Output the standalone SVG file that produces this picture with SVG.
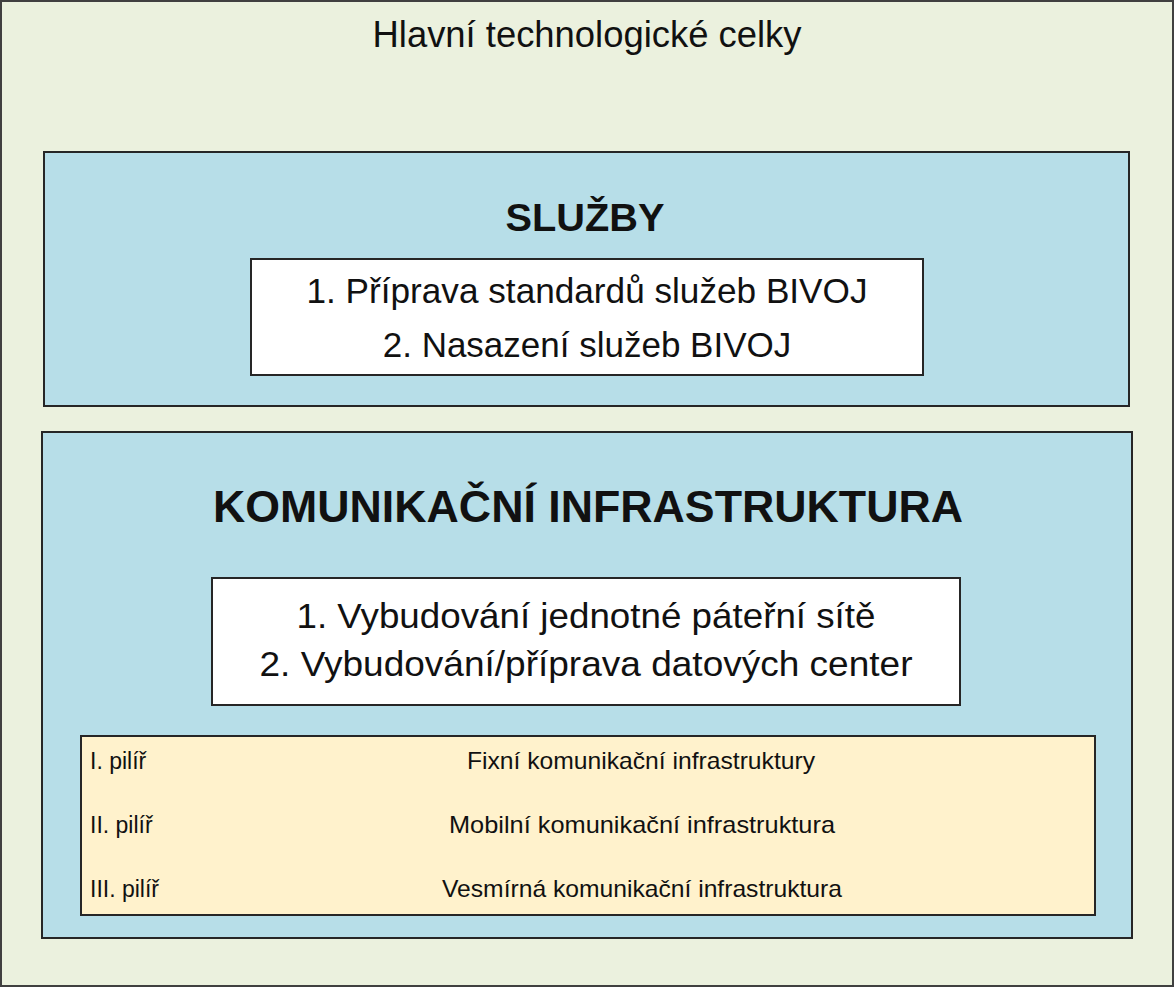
<svg xmlns="http://www.w3.org/2000/svg" width="1174" height="987" viewBox="0 0 1174 987">
<style>
.box{stroke:#262626;stroke-width:2}
.t{font-family:"Liberation Sans",Arial,sans-serif;fill:#111;text-anchor:middle}
.b{font-weight:bold}
.l{font-family:"Liberation Sans",Arial,sans-serif;fill:#111;font-size:23px}
</style>
<rect width="1174" height="987" fill="#ffffff"/>
<g id="outer">
<rect x="1" y="1" width="1172" height="985" fill="#EBF1DE" stroke="#404040" stroke-width="2"/>
<text class="t" x="587" y="47" font-size="36" textLength="429" lengthAdjust="spacingAndGlyphs">Hlavní technologické celky</text>
</g>
<g id="sluzby">
<rect class="box" x="44" y="152" width="1085" height="254" fill="#B7DEE8"/>
<text class="t b" x="585" y="231" font-size="38" textLength="159" lengthAdjust="spacingAndGlyphs">SLUŽBY</text>
</g>
<g id="sluzby-list">
<rect class="box" x="251" y="259" width="672" height="116" fill="#ffffff"/>
<text class="t" x="587" y="303" font-size="35" textLength="561" lengthAdjust="spacingAndGlyphs">1. Příprava standardů služeb BIVOJ</text>
<text class="t" x="587" y="357" font-size="35">2. Nasazení služeb BIVOJ</text>
</g>
<g id="infrastruktura">
<rect class="box" x="42" y="432" width="1090" height="506" fill="#B7DEE8"/>
<text class="t b" x="588" y="522" font-size="45" textLength="750" lengthAdjust="spacingAndGlyphs">KOMUNIKAČNÍ INFRASTRUKTURA</text>
</g>
<g id="infrastruktura-list">
<rect class="box" x="212" y="578" width="748" height="127" fill="#ffffff"/>
<text class="t" x="586" y="628" font-size="35" textLength="579" lengthAdjust="spacingAndGlyphs">1. Vybudování jednotné páteřní sítě</text>
<text class="t" x="586" y="676" font-size="35" textLength="653" lengthAdjust="spacingAndGlyphs">2. Vybudování/příprava datových center</text>
</g>
<g id="pilire">
<rect class="box" x="81" y="736" width="1014" height="179" fill="#FFF2CC"/>
<text class="l" x="90" y="769">I. pilíř</text>
<text class="l" x="90" y="833">II. pilíř</text>
<text class="l" x="90" y="897">III. pilíř</text>
<text class="t" x="641" y="769" font-size="24" textLength="348" lengthAdjust="spacingAndGlyphs">Fixní komunikační infrastruktury</text>
<text class="t" x="642" y="833" font-size="24" textLength="386" lengthAdjust="spacingAndGlyphs">Mobilní komunikační infrastruktura</text>
<text class="t" x="642" y="897" font-size="24" textLength="400" lengthAdjust="spacingAndGlyphs">Vesmírná komunikační infrastruktura</text>
</g>
<g id="connectors"></g>
</svg>
